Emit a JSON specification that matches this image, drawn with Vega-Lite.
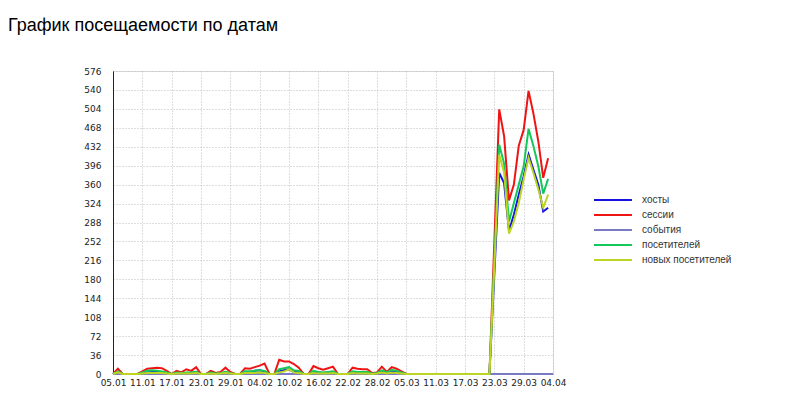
{
  "$schema": "https://vega.github.io/schema/vega-lite/v6.json",
  "width": 440,
  "height": 303,
  "autosize": {"type": "none"},
  "padding": {"left": 113, "top": 71, "right": 247, "bottom": 41},
  "background": "white",
  "title": {
    "text": "График посещаемости по датам",
    "anchor": "start",
    "frame": "group",
    "font": "Liberation Sans",
    "fontSize": 18,
    "fontWeight": "normal",
    "color": "#000",
    "dx": -105,
    "offset": 32
  },
  "data": {
    "values": [
      {"date": "2012-01-05", "хосты": 0, "сессии": 0, "события": 0, "посетителей": 0, "новых посетителей": 0},
      {"date": "2012-01-06", "хосты": 3, "сессии": 10, "события": 0, "посетителей": 5, "новых посетителей": 3},
      {"date": "2012-01-07", "хосты": 0, "сессии": 0, "события": 0, "посетителей": 0, "новых посетителей": 0},
      {"date": "2012-01-08", "хосты": 0, "сессии": 0, "события": 0, "посетителей": 0, "новых посетителей": 0},
      {"date": "2012-01-09", "хосты": 0, "сессии": 0, "события": 0, "посетителей": 0, "новых посетителей": 0},
      {"date": "2012-01-10", "хосты": 0, "сессии": 0, "события": 0, "посетителей": 0, "новых посетителей": 0},
      {"date": "2012-01-11", "хосты": 1, "сессии": 5, "события": 0, "посетителей": 3, "новых посетителей": 1},
      {"date": "2012-01-12", "хосты": 3, "сессии": 10, "события": 0, "посетителей": 6, "новых посетителей": 2},
      {"date": "2012-01-13", "хосты": 4, "сессии": 11, "события": 0, "посетителей": 7, "новых посетителей": 2},
      {"date": "2012-01-14", "хосты": 4, "сессии": 12, "события": 0, "посетителей": 6, "новых посетителей": 2},
      {"date": "2012-01-15", "хосты": 3, "сессии": 11, "события": 0, "посетителей": 5, "новых посетителей": 2},
      {"date": "2012-01-16", "хосты": 1, "сессии": 6, "события": 0, "посетителей": 3, "новых посетителей": 1},
      {"date": "2012-01-17", "хосты": 0, "сессии": 0, "события": 0, "посетителей": 0, "новых посетителей": 0},
      {"date": "2012-01-18", "хосты": 2, "сессии": 6, "события": 0, "посетителей": 3, "новых посетителей": 1},
      {"date": "2012-01-19", "хосты": 1, "сессии": 3, "события": 0, "посетителей": 2, "новых посетителей": 1},
      {"date": "2012-01-20", "хосты": 2, "сессии": 9, "события": 0, "посетителей": 3, "новых посетителей": 1},
      {"date": "2012-01-21", "хосты": 2, "сессии": 6, "события": 0, "посетителей": 3, "новых посетителей": 1},
      {"date": "2012-01-22", "хосты": 4, "сессии": 13, "события": 0, "посетителей": 4, "новых посетителей": 2},
      {"date": "2012-01-23", "хосты": 0, "сессии": 0, "события": 0, "посетителей": 0, "новых посетителей": 0},
      {"date": "2012-01-24", "хосты": 0, "сессии": 0, "события": 0, "посетителей": 0, "новых посетителей": 0},
      {"date": "2012-01-25", "хосты": 2, "сессии": 6, "события": 0, "посетителей": 3, "новых посетителей": 1},
      {"date": "2012-01-26", "хосты": 0, "сессии": 2, "события": 0, "посетителей": 1, "новых посетителей": 0},
      {"date": "2012-01-27", "хосты": 1, "сессии": 4, "события": 0, "посетителей": 2, "новых посетителей": 1},
      {"date": "2012-01-28", "хосты": 3, "сессии": 12, "события": 0, "посетителей": 4, "новых посетителей": 2},
      {"date": "2012-01-29", "хосты": 1, "сессии": 4, "события": 0, "посетителей": 2, "новых посетителей": 1},
      {"date": "2012-01-30", "хосты": 0, "сессии": 0, "события": 0, "посетителей": 0, "новых посетителей": 0},
      {"date": "2012-01-31", "хосты": 0, "сессии": 0, "события": 0, "посетителей": 0, "новых посетителей": 0},
      {"date": "2012-02-01", "хосты": 3, "сессии": 11, "события": 0, "посетителей": 5, "новых посетителей": 2},
      {"date": "2012-02-02", "хосты": 4, "сессии": 10, "события": 0, "посетителей": 5, "новых посетителей": 2},
      {"date": "2012-02-03", "хосты": 6, "сессии": 13, "события": 0, "посетителей": 6, "новых посетителей": 2},
      {"date": "2012-02-04", "хосты": 7, "сессии": 16, "события": 0, "посетителей": 7, "новых посетителей": 3},
      {"date": "2012-02-05", "хосты": 5, "сессии": 20, "события": 0, "посетителей": 6, "новых посетителей": 2},
      {"date": "2012-02-06", "хосты": 0, "сессии": 0, "события": 0, "посетителей": 0, "новых посетителей": 0},
      {"date": "2012-02-07", "хосты": 0, "сессии": 0, "события": 0, "посетителей": 0, "новых посетителей": 0},
      {"date": "2012-02-08", "хосты": 5, "сессии": 27, "события": 0, "посетителей": 9, "новых посетителей": 3},
      {"date": "2012-02-09", "хосты": 7, "сессии": 24, "события": 0, "посетителей": 11, "новых посетителей": 5},
      {"date": "2012-02-10", "хосты": 9, "сессии": 24, "события": 0, "посетителей": 13, "новых посетителей": 9},
      {"date": "2012-02-11", "хосты": 4, "сессии": 19, "события": 0, "посетителей": 7, "новых посетителей": 3},
      {"date": "2012-02-12", "хосты": 4, "сессии": 12, "события": 0, "посетителей": 6, "новых посетителей": 2},
      {"date": "2012-02-13", "хосты": 0, "сессии": 0, "события": 0, "посетителей": 0, "новых посетителей": 0},
      {"date": "2012-02-14", "хосты": 0, "сессии": 0, "события": 0, "посетителей": 0, "новых посетителей": 0},
      {"date": "2012-02-15", "хосты": 4, "сессии": 15, "события": 0, "посетителей": 6, "новых посетителей": 2},
      {"date": "2012-02-16", "хосты": 3, "сессии": 11, "события": 0, "посетителей": 4, "новых посетителей": 1},
      {"date": "2012-02-17", "хосты": 2, "сессии": 8, "события": 0, "посетителей": 3, "новых посетителей": 1},
      {"date": "2012-02-18", "хосты": 3, "сессии": 11, "события": 0, "посетителей": 4, "новых посетителей": 1},
      {"date": "2012-02-19", "хосты": 3, "сессии": 14, "события": 0, "посетителей": 5, "новых посетителей": 2},
      {"date": "2012-02-20", "хосты": 0, "сессии": 0, "события": 0, "посетителей": 0, "новых посетителей": 0},
      {"date": "2012-02-21", "хосты": 0, "сессии": 0, "события": 0, "посетителей": 0, "новых посетителей": 0},
      {"date": "2012-02-22", "хосты": 0, "сессии": 0, "события": 0, "посетителей": 0, "новых посетителей": 0},
      {"date": "2012-02-23", "хосты": 3, "сессии": 12, "события": 0, "посетителей": 5, "новых посетителей": 2},
      {"date": "2012-02-24", "хосты": 2, "сессии": 10, "события": 0, "посетителей": 4, "новых посетителей": 1},
      {"date": "2012-02-25", "хосты": 3, "сессии": 9, "события": 0, "посетителей": 4, "новых посетителей": 1},
      {"date": "2012-02-26", "хосты": 2, "сессии": 9, "события": 0, "посетителей": 4, "новых посетителей": 1},
      {"date": "2012-02-27", "хосты": 0, "сессии": 2, "события": 0, "посетителей": 1, "новых посетителей": 0},
      {"date": "2012-02-28", "хосты": 1, "сессии": 3, "события": 0, "посетителей": 2, "новых посетителей": 1},
      {"date": "2012-02-29", "хосты": 5, "сессии": 14, "события": 0, "посетителей": 7, "новых посетителей": 3},
      {"date": "2012-03-01", "хосты": 2, "сессии": 4, "события": 0, "посетителей": 3, "новых посетителей": 1},
      {"date": "2012-03-02", "хосты": 6, "сессии": 13, "события": 0, "посетителей": 8, "новых посетителей": 3},
      {"date": "2012-03-03", "хосты": 4, "сессии": 10, "события": 0, "посетителей": 6, "новых посетителей": 2},
      {"date": "2012-03-04", "хосты": 2, "сессии": 5, "события": 0, "посетителей": 3, "новых посетителей": 1},
      {"date": "2012-03-05", "хосты": 0, "сессии": 0, "события": 0, "посетителей": 0, "новых посетителей": 0},
      {"date": "2012-03-06", "хосты": 0, "сессии": 0, "события": 0, "посетителей": 0, "новых посетителей": 0},
      {"date": "2012-03-07", "хосты": 0, "сессии": 0, "события": 0, "посетителей": 0, "новых посетителей": 0},
      {"date": "2012-03-08", "хосты": 0, "сессии": 0, "события": 0, "посетителей": 0, "новых посетителей": 0},
      {"date": "2012-03-09", "хосты": 0, "сессии": 0, "события": 0, "посетителей": 0, "новых посетителей": 0},
      {"date": "2012-03-10", "хосты": 0, "сессии": 0, "события": 0, "посетителей": 0, "новых посетителей": 0},
      {"date": "2012-03-11", "хосты": 0, "сессии": 0, "события": 0, "посетителей": 0, "новых посетителей": 0},
      {"date": "2012-03-12", "хосты": 0, "сессии": 0, "события": 0, "посетителей": 0, "новых посетителей": 0},
      {"date": "2012-03-13", "хосты": 0, "сессии": 0, "события": 0, "посетителей": 0, "новых посетителей": 0},
      {"date": "2012-03-14", "хосты": 0, "сессии": 0, "события": 0, "посетителей": 0, "новых посетителей": 0},
      {"date": "2012-03-15", "хосты": 0, "сессии": 0, "события": 0, "посетителей": 0, "новых посетителей": 0},
      {"date": "2012-03-16", "хосты": 0, "сессии": 0, "события": 0, "посетителей": 0, "новых посетителей": 0},
      {"date": "2012-03-17", "хосты": 0, "сессии": 0, "события": 0, "посетителей": 0, "новых посетителей": 0},
      {"date": "2012-03-18", "хосты": 0, "сессии": 0, "события": 0, "посетителей": 0, "новых посетителей": 0},
      {"date": "2012-03-19", "хосты": 0, "сессии": 0, "события": 0, "посетителей": 0, "новых посетителей": 0},
      {"date": "2012-03-20", "хосты": 0, "сессии": 0, "события": 0, "посетителей": 0, "новых посетителей": 0},
      {"date": "2012-03-21", "хосты": 0, "сессии": 0, "события": 0, "посетителей": 0, "новых посетителей": 0},
      {"date": "2012-03-22", "хосты": 0, "сессии": 0, "события": 0, "посетителей": 0, "новых посетителей": 0},
      {"date": "2012-03-23", "хосты": 190, "сессии": 250, "события": 0, "посетителей": 215, "новых посетителей": 205},
      {"date": "2012-03-24", "хосты": 382, "сессии": 503, "события": 0, "посетителей": 436, "новых посетителей": 417},
      {"date": "2012-03-25", "хосты": 363, "сессии": 452, "события": 0, "посетителей": 400, "новых посетителей": 383},
      {"date": "2012-03-26", "хосты": 272, "сессии": 330, "события": 0, "посетителей": 290, "новых посетителей": 267},
      {"date": "2012-03-27", "хосты": 303, "сессии": 360, "события": 0, "посетителей": 325, "новых посетителей": 290},
      {"date": "2012-03-28", "хосты": 341, "сессии": 434, "события": 0, "посетителей": 360, "новых посетителей": 325},
      {"date": "2012-03-29", "хосты": 376, "сессии": 464, "события": 0, "посетителей": 395, "новых посетителей": 370},
      {"date": "2012-03-30", "хосты": 417, "сессии": 538, "события": 0, "посетителей": 466, "новых посетителей": 411},
      {"date": "2012-03-31", "хосты": 388, "сессии": 495, "события": 0, "посетителей": 433, "новых посетителей": 382},
      {"date": "2012-04-01", "хосты": 360, "сессии": 442, "события": 0, "посетителей": 395, "новых посетителей": 351},
      {"date": "2012-04-02", "хосты": 309, "сессии": 373, "события": 0, "посетителей": 343, "новых посетителей": 316},
      {"date": "2012-04-03", "хосты": 316, "сессии": 410, "события": 0, "посетителей": 371, "новых посетителей": 341},
      {"date": "2012-04-04", "хосты": null, "сессии": null, "события": 0, "посетителей": null, "новых посетителей": null}
    ]
  },
  "transform": [
    {"fold": ["хосты", "сессии", "события", "посетителей", "новых посетителей"], "as": ["series", "value"]}
  ],
  "mark": {"type": "line", "strokeWidth": 2},
  "encoding": {
    "x": {
      "field": "date",
      "type": "temporal",
      "scale": {
        "type": "utc",
        "nice": false,
        "domain": [
          {"year": 2012, "month": 1, "date": 5, "utc": true},
          {"year": 2012, "month": 4, "date": 4, "utc": true}
        ]
      },
      "axis": {
        "title": null,
        "format": "%d.%m",
        "values": [
          {"year": 2012, "month": 1, "date": 5, "utc": true},
          {"year": 2012, "month": 1, "date": 11, "utc": true},
          {"year": 2012, "month": 1, "date": 17, "utc": true},
          {"year": 2012, "month": 1, "date": 23, "utc": true},
          {"year": 2012, "month": 1, "date": 29, "utc": true},
          {"year": 2012, "month": 2, "date": 4, "utc": true},
          {"year": 2012, "month": 2, "date": 10, "utc": true},
          {"year": 2012, "month": 2, "date": 16, "utc": true},
          {"year": 2012, "month": 2, "date": 22, "utc": true},
          {"year": 2012, "month": 2, "date": 28, "utc": true},
          {"year": 2012, "month": 3, "date": 5, "utc": true},
          {"year": 2012, "month": 3, "date": 11, "utc": true},
          {"year": 2012, "month": 3, "date": 17, "utc": true},
          {"year": 2012, "month": 3, "date": 23, "utc": true},
          {"year": 2012, "month": 3, "date": 29, "utc": true},
          {"year": 2012, "month": 4, "date": 4, "utc": true}
        ],
        "grid": true,
        "gridDash": [1, 2],
        "gridColor": "#bdbdbd",
        "ticks": false,
        "domainColor": "#666",
        "labelFont": "DejaVu Sans",
        "labelFontSize": 9,
        "labelColor": "#222",
        "labelPadding": 4,
        "labelFlush": false,
        "labelOverlap": false
      }
    },
    "y": {
      "field": "value",
      "type": "quantitative",
      "scale": {"domain": [0, 576], "nice": false},
      "axis": {
        "title": null,
        "values": [0, 36, 72, 108, 144, 180, 216, 252, 288, 324, 360, 396, 432, 468, 504, 540, 576],
        "grid": true,
        "gridDash": [1, 2],
        "gridColor": "#bdbdbd",
        "ticks": false,
        "domainColor": "#222",
        "labelFont": "DejaVu Sans",
        "labelFontSize": 9,
        "labelColor": "#222",
        "labelPadding": 12,
        "labelFlush": false,
        "labelOverlap": false
      }
    },
    "color": {
      "field": "series",
      "type": "nominal",
      "scale": {
        "domain": ["хосты", "сессии", "события", "посетителей", "новых посетителей"],
        "range": ["#1414e0", "#ee1414", "#7a7ac4", "#14c85a", "#bcd422"]
      },
      "legend": {
        "title": null,
        "orient": "none",
        "legendX": 475,
        "legendY": 123,
        "padding": 0,
        "symbolType": "M0,0H8",
        "symbolSize": 90,
        "symbolStrokeWidth": 2,
        "labelFont": "Liberation Sans",
        "labelFontSize": 10,
        "labelColor": "#333",
        "labelOffset": 42,
        "rowPadding": 4
      }
    }
  }
}
